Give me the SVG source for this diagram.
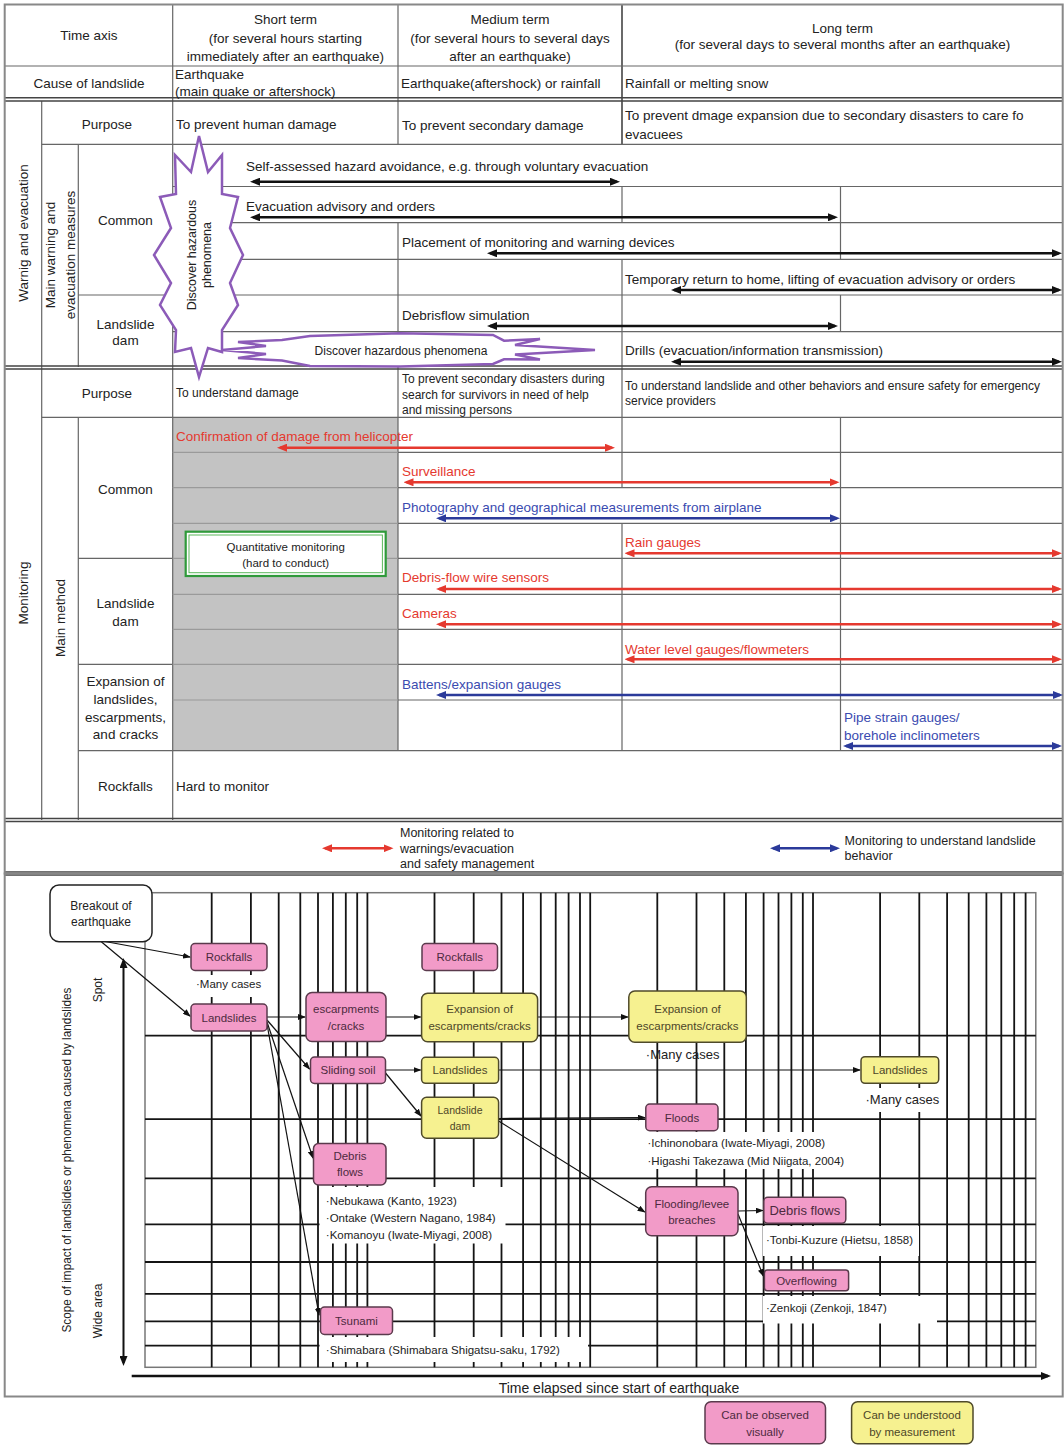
<svg xmlns="http://www.w3.org/2000/svg" width="1064" height="1445" viewBox="0 0 1064 1445">
<defs>
<style>
.t{font-family:"Liberation Sans",Arial,sans-serif;font-size:13.5px;fill:#222;dominant-baseline:central}
.m{text-anchor:middle}
.s12{font-size:12px}
.s11{font-size:11.5px}
.red{fill:#e5392f}
.blue{fill:#3a4bb0}
.ln{stroke:#666;stroke-width:1.2;fill:none}
.lnd{stroke:#444;stroke-width:1.6;fill:none}
.lng{stroke:#9a9a9a;stroke-width:1.2;fill:none}
.ab{stroke:#111;stroke-width:2.5;fill:none;marker-start:url(#ahb);marker-end:url(#ahb)}
.ar{stroke:#e5392f;stroke-width:2.5;fill:none;marker-start:url(#ahr);marker-end:url(#ahr)}
.au{stroke:#2b3a9a;stroke-width:2.5;fill:none;marker-start:url(#ahu);marker-end:url(#ahu)}
.star{fill:#fff;stroke:#8c5bb8;stroke-width:2.5;stroke-linejoin:miter}
.pk{fill:#f29bc8;stroke:#5a3a4c;stroke-width:1.5}
.yl{fill:#f6f190;stroke:#4f4a2a;stroke-width:1.5}
.nt{font-family:"Liberation Sans",Arial,sans-serif;font-size:11.5px;dominant-baseline:central;text-anchor:middle}
.pt{fill:#4d2a3e}
.yt{fill:#4d4628}
.an{font-family:"Liberation Sans",Arial,sans-serif;font-size:11.5px;fill:#222;dominant-baseline:central}
.wb{fill:#fff;stroke:none}
.cn{stroke:#111;stroke-width:1.2;fill:none;marker-end:url(#ahs)}
.lg{font-size:12.5px}
</style>
<marker id="ahb" viewBox="0 0 10 8" refX="7" refY="4" markerWidth="10" markerHeight="8" markerUnits="userSpaceOnUse" orient="auto-start-reverse"><path d="M0,0L10,4L0,8z" fill="#111"/></marker>
<marker id="ahr" viewBox="0 0 10 8" refX="7" refY="4" markerWidth="10" markerHeight="8" markerUnits="userSpaceOnUse" orient="auto-start-reverse"><path d="M0,0L10,4L0,8z" fill="#e5392f"/></marker>
<marker id="ahu" viewBox="0 0 10 8" refX="7" refY="4" markerWidth="10" markerHeight="8" markerUnits="userSpaceOnUse" orient="auto-start-reverse"><path d="M0,0L10,4L0,8z" fill="#2b3a9a"/></marker>
<marker id="ahs" viewBox="0 0 8 6" refX="7" refY="3" markerWidth="8" markerHeight="6" markerUnits="userSpaceOnUse" orient="auto-start-reverse"><path d="M0,0L8,3L0,6z" fill="#111"/></marker>
</defs>

<rect width="1064" height="1445" fill="#fff"/>

<!-- ===== Upper table ===== -->
<g id="table">
<rect x="172.7" y="417.3" width="225.3" height="333.4" fill="#c3c3c3"/>
<!-- vertical rules -->
<path class="ln" d="M172.7 4.5V820M41.7 101V820M78.3 144.3V367M78.3 417.3V820M398 4.5V144.3M398 222.7V333M398 367V750.7M622 186.5V222.7M622 259.3V367M622 367V487.7M622 523.3V750.7M840.5 186.5V259.3M840.5 295V331.7M840.5 417.3V750.7"/>
<path class="lnd" d="M622 4.5V144.3"/>
<!-- horizontal rules -->
<path class="ln" d="M4.7 66H1063M41.7 144.3H1063M172.7 186.5H1063M172.7 222.7H1063M172.7 259.3H1063M78.3 295H1063M172.7 331.7H1063M41.7 417.3H1063M78.3 558.3H172.7M78.3 664.3H172.7M78.3 750.7H1063"/>
<path class="lng" d="M172.7 452.3H398M172.7 487.7H398M172.7 523.3H398M172.7 558.3H398M172.7 594.3H398M172.7 629.3H398M172.7 664.3H398M172.7 700H398"/>
<path class="ln" d="M398 452.3H1063M398 487.7H1063M398 523.3H1063M398 558.3H1063M398 594.3H1063M398 629.3H1063M398 664.3H1063M398 700H1063"/>
<path class="lnd" d="M4.7 97.8H1063M4.7 101H1063M4.7 366H1063M4.7 369H1063M4.7 818.5H1063M4.7 821.5H1063M4.7 872H1063M4.7 875H1063"/>
<rect x="4.7" y="4.5" width="1058" height="869" fill="none" stroke="#888" stroke-width="2"/>

<!-- header -->
<text class="t m" x="89" y="35">Time axis</text>
<text class="t m" x="285.4" y="19">Short term</text>
<text class="t m" x="285.4" y="38.5">(for several hours starting</text>
<text class="t m" x="285.4" y="56">immediately after an earthquake)</text>
<text class="t m" x="510" y="19">Medium term</text>
<text class="t m" x="510" y="38.5">(for several hours to several days</text>
<text class="t m" x="510" y="56">after an earthquake)</text>
<text class="t m" x="842.5" y="28">Long term</text>
<text class="t m" x="842.5" y="44.5">(for several days to several months after an earthquake)</text>
<text class="t m" x="89" y="83.5">Cause of landslide</text>
<text class="t" x="175" y="74.5">Earthquake</text>
<text class="t" x="175" y="91">(main quake or aftershock)</text>
<text class="t" x="401" y="83.5">Earthquake(aftershock) or rainfall</text>
<text class="t" x="625" y="83.5">Rainfall or melting snow</text>

<!-- warning and evacuation -->
<text class="t m" transform="translate(23.3,233) rotate(-90)">Warnig and evacuation</text>
<text class="t m" transform="translate(50,255) rotate(-90)">Main warning and</text>
<text class="t m" transform="translate(70.7,255) rotate(-90)">evacuation measures</text>
<text class="t m" x="107" y="124">Purpose</text>
<text class="t m" x="125.5" y="220">Common</text>
<text class="t m" x="125.5" y="324">Landslide</text>
<text class="t m" x="125.5" y="340.7">dam</text>
<text class="t" x="176" y="124">To prevent human damage</text>
<text class="t" x="402" y="125">To prevent secondary damage</text>
<text class="t" x="625" y="115.7">To prevent dmage expansion due to secondary disasters to care fo</text>
<text class="t" x="625" y="134">evacuees</text>

<text class="t" x="246" y="166.7">Self-assessed hazard avoidance, e.g. through voluntary evacuation</text>
<text class="t" x="246" y="206">Evacuation advisory and orders</text>
<text class="t" x="402" y="242.7">Placement of monitoring and warning devices</text>
<text class="t" x="625" y="279.3">Temporary return to home, lifting of evacuation advisory or orders</text>
<text class="t" x="402" y="315">Debrisflow simulation</text>
<text class="t" x="625" y="350">Drills (evacuation/information transmission)</text>

<path class="ab" d="M253 181.7H617"/>
<path class="ab" d="M253 217.3H835"/>
<path class="ab" d="M490 253.3H1059"/>
<path class="ab" d="M674 290H1059"/>
<path class="ab" d="M490 326H835"/>
<path class="ab" d="M674 361.7H1059"/>

<!-- monitoring -->
<text class="t m" transform="translate(23.3,593) rotate(-90)">Monitoring</text>
<text class="t m" transform="translate(60,618) rotate(-90)">Main method</text>
<text class="t m" x="107" y="393.3">Purpose</text>
<text class="t m" x="125.5" y="489">Common</text>
<text class="t m" x="125.5" y="603.3">Landslide</text>
<text class="t m" x="125.5" y="621.7">dam</text>
<text class="t m" x="125.5" y="681.7">Expansion of</text>
<text class="t m" x="125.5" y="699.3">landslides,</text>
<text class="t m" x="125.5" y="717">escarpments,</text>
<text class="t m" x="125.5" y="734.3">and cracks</text>
<text class="t m" x="125.5" y="786">Rockfalls</text>
<text class="t" x="176" y="786">Hard to monitor</text>
<text class="t s12" x="176" y="393.3">To understand damage</text>
<text class="t s12" x="402" y="379">To prevent secondary disasters during</text>
<text class="t s12" x="402" y="394.5">search for survivors in need of help</text>
<text class="t s12" x="402" y="410">and missing persons</text>
<text class="t s12" x="625" y="385.7">To understand landslide and other behaviors and ensure safety for emergency</text>
<text class="t s12" x="625" y="401">service providers</text>

<text class="t red" x="176" y="436.7">Confirmation of damage from helicopter</text>
<text class="t red" x="402" y="471.7">Surveillance</text>
<text class="t blue" x="402" y="507.3">Photography and geographical measurements from airplane</text>
<text class="t red" x="625" y="542.7">Rain gauges</text>
<text class="t red" x="402" y="577.7">Debris-flow wire sensors</text>
<text class="t red" x="402" y="613.3">Cameras</text>
<text class="t red" x="625" y="649">Water level gauges/flowmeters</text>
<text class="t blue" x="402" y="684.3">Battens/expansion gauges</text>
<text class="t blue" x="844" y="717.3">Pipe strain gauges/</text>
<text class="t blue" x="844" y="735">borehole inclinometers</text>

<path class="ar" d="M280 447.7H612"/>
<path class="ar" d="M406.5 482.3H836.5"/>
<path class="au" d="M439 518.3H837"/>
<path class="ar" d="M627.5 553.3H1059"/>
<path class="ar" d="M439 589H1059"/>
<path class="ar" d="M439 624.3H1059"/>
<path class="ar" d="M627.5 659.3H1059"/>
<path class="au" d="M439 695H1060"/>
<path class="au" d="M846 746H1059"/>

<g id="quantitative-box">
<rect x="185.7" y="531.7" width="200" height="44.3" fill="#fff" stroke="#2f9a3a" stroke-width="2.2"/>
<rect x="189" y="535" width="193.4" height="37.7" fill="none" stroke="#5cb85c" stroke-width="1"/>
<text class="t s11 m" x="285.7" y="546.7">Quantitative monitoring</text>
<text class="t s11 m" x="285.7" y="563.3">(hard to conduct)</text>
</g>

<!-- legend of arrow colours -->
<path class="ar" d="M325 848.3H390.5"/>
<text class="t lg" x="400" y="832.5">Monitoring related to</text>
<text class="t lg" x="400" y="848.5">warnings/evacuation</text>
<text class="t lg" x="400" y="864">and safety management</text>
<path class="au" d="M773 848.3H837"/>
<text class="t lg" x="844.6" y="841">Monitoring to understand landslide</text>
<text class="t lg" x="844.6" y="856">behavior</text>

<!-- hazard bursts -->
<g id="burst-vertical">
<polygon class="star" points="199,136 208,172 222,155 222,194 238,197 230,228 243,255 230,283 238,305 222,330 222,352 208,348 199,377 191,348 175,352 176,330 160,305 171,283 154,255 171,228 160,197 176,194 175,155 191,172"/>
<text class="t m" transform="translate(191.5,255) rotate(-90)" style="font-size:12.5px">Discover hazardous</text>
<text class="t m" transform="translate(206.5,255) rotate(-90)" style="font-size:12.5px">phenomena</text>
</g>
<g id="burst-horizontal">
<polygon class="star" points="310,336 400,333.3 493,335 504,340.7 540,339 515,345 595,350 515,354.5 540,359.5 504,359.3 493,364 400,366.5 310,366 282,360.5 238,358 266,354 222,350 266,346 238,342 282,340"/>
<text class="t m" x="401" y="351" style="font-size:12px">Discover hazardous phenomena</text>
</g>
</g>

<!-- ===== Lower chart ===== -->
<g id="chart">
<rect x="4.7" y="873.5" width="1058" height="523" fill="none" stroke="#888" stroke-width="2"/>
<!-- log-scaled grid -->
<rect x="145" y="892.7" width="890.8" height="474.6" fill="none" stroke="#777" stroke-width="1.5"/>
<path stroke="#141414" stroke-width="1.8" fill="none" d="M211.7 892.7V1367.3M250.9 892.7V1367.3M278.7 892.7V1367.3M300.3 892.7V1367.3M318 892.7V1367.3M332.9 892.7V1367.3M345.8 892.7V1367.3M357.2 892.7V1367.3M367.4 892.7V1367.3M434.5 892.7V1367.3M473.7 892.7V1367.3M501.5 892.7V1367.3M523.1 892.7V1367.3M540.8 892.7V1367.3M555.7 892.7V1367.3M568.6 892.7V1367.3M580 892.7V1367.3M590.2 892.7V1367.3M657.3 892.7V1367.3M696.5 892.7V1367.3M724.3 892.7V1367.3M745.9 892.7V1367.3M763.6 892.7V1367.3M778.5 892.7V1367.3M791.4 892.7V1367.3M802.8 892.7V1367.3M813 892.7V1367.3M880.1 892.7V1367.3M919.3 892.7V1367.3M947.1 892.7V1367.3M968.7 892.7V1367.3M986.4 892.7V1367.3M1001.3 892.7V1367.3M1014.2 892.7V1367.3M1025.6 892.7V1367.3"/>
<path stroke="#141414" stroke-width="1.8" fill="none" d="M145 1035.6H1035.8M145 1119.1H1035.8M145 1178.4H1035.8M145 1224.4H1035.8M145 1262H1035.8M145 1293.8H1035.8M145 1321.3H1035.8M145 1345.6H1035.8"/>

<!-- backgrounds behind case notes -->
<rect class="wb" x="192" y="975" width="75" height="22"/>
<rect class="wb" x="859" y="1088" width="87" height="24"/>
<rect class="wb" x="645" y="1132" width="211" height="37"/>
<rect class="wb" x="319.5" y="1187" width="186" height="56.5"/>
<rect class="wb" x="763" y="1226" width="156" height="30"/>
<rect class="wb" x="763" y="1296" width="174" height="27.5"/>
<rect class="wb" x="319.5" y="1337" width="268.5" height="25"/>

<!-- axes -->
<path stroke="#111" stroke-width="2" fill="none" marker-start="url(#ahb)" marker-end="url(#ahb)" d="M123.5 961V1363"/>
<path stroke="#111" stroke-width="2.5" fill="none" marker-end="url(#ahb)" d="M131.7 1376H1048"/>
<text class="t m" x="619" y="1387.5" style="font-size:14px">Time elapsed since start of earthquake</text>
<text class="t m" transform="translate(67,1160) rotate(-90)" style="font-size:12px" textLength="345" lengthAdjust="spacingAndGlyphs">Scope of impact of landslides or phenomena caused by landslides</text>
<text class="t m" transform="translate(98,990) rotate(-90)" style="font-size:12px">Spot</text>
<text class="t m" transform="translate(98,1311) rotate(-90)" style="font-size:12px">Wide area</text>

<!-- case notes -->
<text class="an" x="196" y="983.5">·Many cases</text>
<text class="an" x="645.8" y="1054" style="font-size:13px">·Many cases</text>
<text class="an" x="865.5" y="1099" style="font-size:13px">·Many cases</text>
<text class="an" x="647.5" y="1143.3">·Ichinonobara (Iwate-Miyagi, 2008)</text>
<text class="an" x="647.5" y="1160.7">·Higashi Takezawa (Mid Niigata, 2004)</text>
<text class="an" x="325.8" y="1200.7">·Nebukawa (Kanto, 1923)</text>
<text class="an" x="325.8" y="1218.3">·Ontake (Western Nagano, 1984)</text>
<text class="an" x="325.8" y="1235">·Komanoyu (Iwate-Miyagi, 2008)</text>
<text class="an" x="766" y="1240">·Tonbi-Kuzure (Hietsu, 1858)</text>
<text class="an" x="766" y="1308.3">·Zenkoji (Zenkoji, 1847)</text>
<text class="an" x="325.8" y="1350">·Shimabara (Shimabara Shigatsu-saku, 1792)</text>
</g>

<g id="connectors">
<path class="cn" d="M105 941.5L190 957"/>
<path class="cn" d="M101 941.5L190 1016"/>
<path class="cn" d="M267 1017H305"/>
<path class="cn" d="M267 1020L309.5 1069"/>
<path class="cn" d="M267 1022L313 1158"/>
<path class="cn" d="M267 1024L319 1315"/>
<path class="cn" d="M386 1017H420.6"/>
<path class="cn" d="M385.5 1070H420.6"/>
<path class="cn" d="M385.5 1073L421 1116"/>
<path class="cn" d="M537.6 1017H627.8"/>
<path class="cn" d="M498.6 1070H860"/>
<path class="cn" stroke-width="2.5" d="M498.6 1118.5L644.8 1117.5"/>
<path class="cn" d="M498.6 1121L644.7 1212"/>
<path class="cn" d="M738 1211L762.8 1210.5"/>
<path class="cn" d="M738 1214L763.4 1276"/>
</g>

<g id="node-breakout">
<rect x="50" y="885" width="102" height="56.7" rx="9" fill="#fff" stroke="#222" stroke-width="1.5"/>
<text class="nt" x="101" y="905.5" style="fill:#222;font-size:12px">Breakout of</text>
<text class="nt" x="101" y="922" style="fill:#222;font-size:12px">earthquake</text>
</g>
<g id="node-rockfalls-1">
<rect class="pk" x="191" y="943.5" width="76" height="27" rx="4"/>
<text class="nt pt" x="229" y="957">Rockfalls</text>
</g>
<g id="node-landslides-1">
<rect class="pk" x="191" y="1004" width="76" height="27" rx="4"/>
<text class="nt pt" x="229" y="1017.5">Landslides</text>
</g>
<g id="node-escarpments">
<rect class="pk" x="306" y="992.5" width="80" height="49" rx="6"/>
<text class="nt pt" x="346" y="1009">escarpments</text>
<text class="nt pt" x="346" y="1026">/cracks</text>
</g>
<g id="node-sliding-soil">
<rect class="pk" x="310.5" y="1057" width="75" height="26.5" rx="4"/>
<text class="nt pt" x="348" y="1070">Sliding soil</text>
</g>
<g id="node-debris-flows-1">
<rect class="pk" x="313.5" y="1143.5" width="72.5" height="41.5" rx="5"/>
<text class="nt pt" x="350" y="1155.5">Debris</text>
<text class="nt pt" x="350" y="1172">flows</text>
</g>
<g id="node-tsunami">
<rect class="pk" x="320.5" y="1307" width="72" height="27.5" rx="4"/>
<text class="nt pt" x="356.5" y="1320.5">Tsunami</text>
</g>
<g id="node-rockfalls-2">
<rect class="pk" x="422" y="943.5" width="75.5" height="27" rx="4"/>
<text class="nt pt" x="459.8" y="957">Rockfalls</text>
</g>
<g id="node-expansion-1">
<rect class="yl" x="421.6" y="993.3" width="116" height="48.4" rx="6"/>
<text class="nt yt" x="479.6" y="1009">Expansion of</text>
<text class="nt yt" x="479.6" y="1026">escarpments/cracks</text>
</g>
<g id="node-landslides-2">
<rect class="yl" x="421.6" y="1057.3" width="77" height="26" rx="4"/>
<text class="nt yt" x="460" y="1070.3">Landslides</text>
</g>
<g id="node-landslide-dam">
<rect class="yl" x="421.6" y="1097.3" width="77" height="41" rx="5"/>
<text class="nt yt" x="460" y="1110" style="font-size:10.5px">Landslide</text>
<text class="nt yt" x="460" y="1126" style="font-size:10.5px">dam</text>
</g>
<g id="node-expansion-2">
<rect class="yl" x="628.8" y="991" width="117.5" height="51.3" rx="6"/>
<text class="nt yt" x="687.5" y="1009">Expansion of</text>
<text class="nt yt" x="687.5" y="1026">escarpments/cracks</text>
</g>
<g id="node-floods">
<rect class="pk" x="645.8" y="1104" width="72.2" height="26.7" rx="4"/>
<text class="nt pt" x="682" y="1117.5">Floods</text>
</g>
<g id="node-landslides-3">
<rect class="yl" x="861" y="1056.7" width="77.7" height="26.6" rx="4"/>
<text class="nt yt" x="900" y="1070">Landslides</text>
</g>
<g id="node-flooding">
<rect class="pk" x="645.7" y="1186.7" width="92.3" height="49" rx="6"/>
<text class="nt pt" x="691.8" y="1203.5">Flooding/levee</text>
<text class="nt pt" x="691.8" y="1220">breaches</text>
</g>
<g id="node-debris-flows-2">
<rect class="pk" x="763.8" y="1197.3" width="82" height="26" rx="4"/>
<text class="nt pt" x="804.8" y="1210.5" style="font-size:13px">Debris flows</text>
</g>
<g id="node-overflowing">
<rect class="pk" x="764.4" y="1270" width="84.2" height="20.7" rx="3"/>
<text class="nt pt" x="806.5" y="1280.5">Overflowing</text>
</g>

<!-- colour key -->
<g id="key-visual">
<rect class="pk" x="705" y="1401.7" width="120.5" height="42" rx="6"/>
<text class="nt pt" x="765" y="1415">Can be observed</text>
<text class="nt pt" x="765" y="1432">visually</text>
</g>
<g id="key-measure">
<rect class="yl" x="851.6" y="1401.7" width="121.4" height="42" rx="6"/>
<text class="nt yt" x="912" y="1415">Can be understood</text>
<text class="nt yt" x="912" y="1432">by measurement</text>
</g>
</svg>
